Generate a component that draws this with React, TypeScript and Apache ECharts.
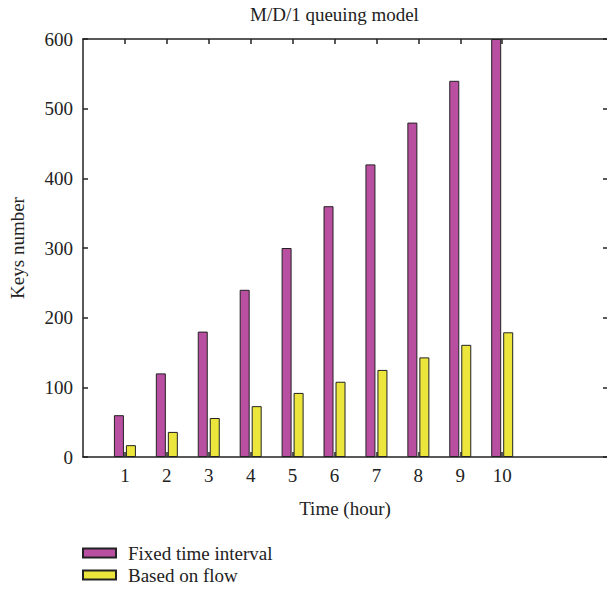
import React, { useEffect, useRef } from "react";
import * as echarts from "echarts";

const hours = [1, 2, 3, 4, 5, 6, 7, 8, 9, 10];
const fixedInterval = [60, 120, 180, 240, 300, 360, 420, 480, 540, 600];
const basedOnFlow = [17, 36, 56, 73, 92, 108, 125, 143, 161, 179];
const yTicks = [0, 100, 200, 300, 400, 500, 600];
const seriesNames = ["Fixed time interval", "Based on flow"];

const FONT = "Liberation Serif";
const FS = 19;

export default function App() {
  const ref = useRef<HTMLDivElement>(null);
  useEffect(() => {
    if (!ref.current) return;
    const chart = echarts.init(ref.current, undefined, { renderer: "svg" });
    const lineStyle = { color: "#222", width: 1.5 };
    const legendBase = {
      orient: "vertical",
      left: 82,
      padding: 0,
      itemWidth: 33,
      itemHeight: 9,
      icon: "rect",
      textStyle: {
        fontFamily: FONT,
        fontSize: FS,
        lineHeight: 20,
        color: "#222",
        padding: [0, 0, 0, 7],
      },
    };
    chart.setOption({
      animation: false,
      backgroundColor: "#fff",
      textStyle: { fontFamily: FONT, color: "#222" },
      title: {
        text: "M/D/1 queuing model",
        left: 250,
        top: 5,
        padding: 0,
        textStyle: { fontFamily: FONT, fontSize: FS, fontWeight: "normal", color: "#222" },
      },
      legend: [
        { ...legendBase, top: 543, data: [seriesNames[0]] },
        { ...legendBase, top: 565, data: [seriesNames[1]] },
      ],
      grid: { left: 82, right: 0, top: 39, bottom: 133 },
      xAxis: [
        {
          type: "value",
          min: 0,
          max: 12.5,
          interval: 1,
          name: "Time (hour)",
          nameLocation: "middle",
          nameGap: 42,
          nameTextStyle: { fontFamily: FONT, fontSize: FS, color: "#222" },
          axisLine: { show: true, onZero: false, lineStyle },
          axisTick: { show: true, inside: true, length: 5, customValues: hours, lineStyle },
          axisLabel: {
            customValues: hours,
            margin: 9,
            fontFamily: FONT,
            fontSize: FS,
            color: "#222",
          },
          splitLine: { show: false },
        },
        {
          type: "value",
          position: "top",
          min: 0,
          max: 12.5,
          interval: 1,
          axisLine: { show: true, onZero: false, lineStyle },
          axisTick: { show: true, inside: true, length: 5, customValues: hours, lineStyle },
          axisLabel: { show: false },
          splitLine: { show: false },
        },
      ],
      yAxis: [
        {
          type: "value",
          min: 0,
          max: 600,
          interval: 100,
          name: "Keys number",
          nameLocation: "middle",
          nameGap: 56,
          nameTextStyle: { fontFamily: FONT, fontSize: FS, color: "#222" },
          axisLine: { show: true, onZero: false, lineStyle },
          axisTick: { show: true, inside: true, length: 5, customValues: yTicks, lineStyle },
          axisLabel: { margin: 10, fontFamily: FONT, fontSize: FS, color: "#222" },
          splitLine: { show: false },
        },
        {
          type: "value",
          position: "right",
          min: 0,
          max: 600,
          interval: 100,
          axisLine: { show: false, onZero: false },
          axisTick: { show: true, inside: true, length: 4, lineStyle },
          axisLabel: { show: false },
          splitLine: { show: false },
        },
      ],
      series: [
        {
          name: seriesNames[0],
          type: "bar",
          xAxisIndex: 0,
          yAxisIndex: 0,
          barWidth: 10,
          barGap: "20%",
          itemStyle: { color: "#B84FA0", borderColor: "#222", borderWidth: 1 },
          data: hours.map((h, i) => [h, fixedInterval[i]]),
        },
        {
          name: seriesNames[1],
          type: "bar",
          xAxisIndex: 0,
          yAxisIndex: 0,
          barWidth: 10,
          barGap: "20%",
          itemStyle: { color: "#ECE63C", borderColor: "#222", borderWidth: 1 },
          data: hours.map((h, i) => [h, basedOnFlow[i]]),
        },
      ],
    });
    return () => chart.dispose();
  }, []);
  return (
    <div
      ref={ref}
      style={{ position: "absolute", left: 0, top: 0, width: 607, height: 590 }}
    />
  );
}
